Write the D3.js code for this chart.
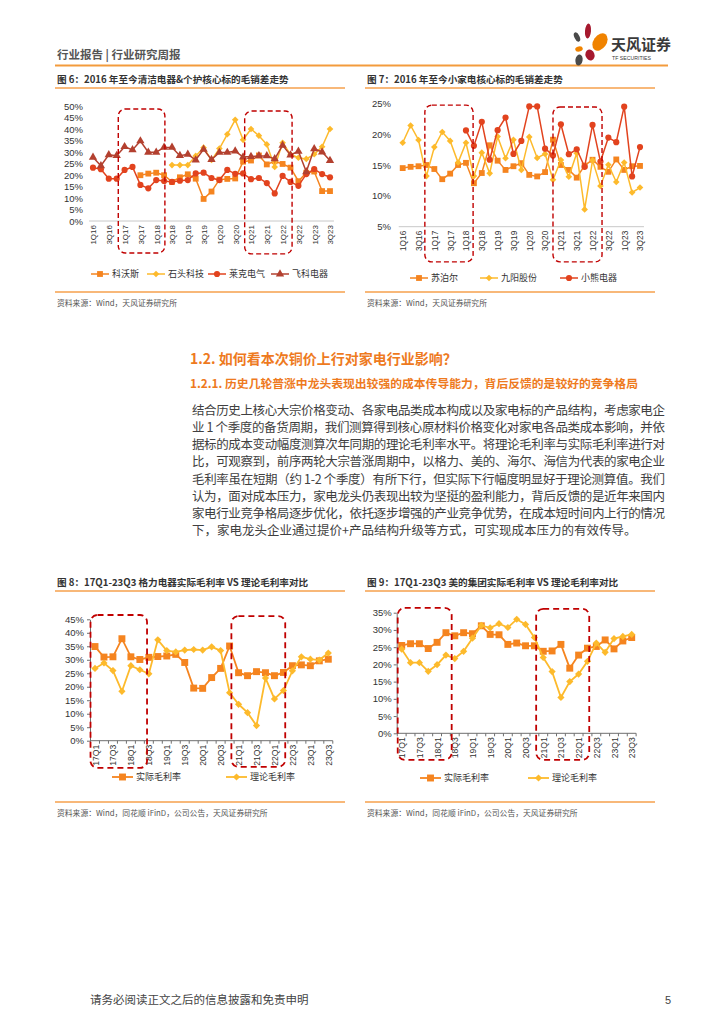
<!DOCTYPE html>
<html><head><meta charset="utf-8">
<script src="https://cdn.jsdelivr.net/npm/d3@7"></script>
<style>body{margin:0;background:#fff}svg{display:block}</style>
</head><body><svg id="c" width="724" height="1024"></svg>
<script>
// ---------- DATA ----------
const quarters = ["1Q16","2Q16","3Q16","4Q16","1Q17","2Q17","3Q17","4Q17","1Q18","2Q18","3Q18","4Q18","1Q19","2Q19","3Q19","4Q19","1Q20","2Q20","3Q20","4Q20","1Q21","2Q21","3Q21","4Q21","1Q22","2Q22","3Q22","4Q22","1Q23","2Q23","3Q23"];
const quarterLabels = ["1Q16","3Q16","1Q17","3Q17","1Q18","3Q18","1Q19","3Q19","1Q20","3Q20","1Q21","3Q21","1Q22","3Q22","1Q23","3Q23"];
// Fig 6
const kewosi = [null,null,null,null,null,null,19.9,20.6,21,19.9,17,19,20.3,18.4,9.6,12.8,18,18.3,18.5,25.8,26.3,28.5,24.6,26,24.8,23.2,17.3,21,21.5,13,13];
const shitou = [null,null,null,null,null,null,null,null,null,null,24.3,24.3,24.3,28.3,31.9,26.5,31.5,37.7,44,35.3,40,37.1,33.3,23.5,34,29,27.5,27,29,32.3,40];
const laike = [23.2,22.5,18.4,18.4,22.2,23.5,15.7,14.2,17.8,17.4,17,17.5,17.8,20.7,21,18.7,17.8,22.2,20.5,20.7,18.2,18.7,16.5,12,19.6,17,15.3,20.4,22.6,20.4,19];
const feike = [27.7,24,28.8,28.4,32.3,30.9,34.8,29.9,29.9,32,32,28.4,29,26.5,31.2,26.7,29.8,29.8,30.4,27.8,28,28.3,28.3,27,32.9,28.7,30.3,21.4,31.4,30,26.3];
// Fig 7
const supor = [14.5,14.7,14.8,15,14.35,12.7,13.6,15,15.35,12.05,13.7,18.2,15.7,14.2,14.8,15.3,13.4,13.15,13.85,19.1,15,14.2,12.95,14.9,15.85,14.7,13.9,15.9,14.2,14.8,14.85];
const joyoung = [18.6,21.4,19.05,13.2,17.9,20.35,18.9,15.4,18.6,13.2,17,13.65,19.6,16.1,19.1,14.2,19.55,16.15,16.8,12.6,15.8,13.1,16.9,7.8,15.75,11.6,15.05,12.25,15.4,10.55,11.35];
const bear = [null,null,null,null,null,null,null,null,20.6,18.1,22,15.85,20.65,22.7,16.8,18.9,24.5,24.5,17.65,16.55,21.6,16.75,17.55,14.7,21.5,15.55,19.45,18.7,24.45,13.15,17.9];
// Fig 8 / 9
const periods = ["17Q1","17Q2","17Q3","17Q4","18Q1","18Q2","18Q3","18Q4","19Q1","19Q2","19Q3","19Q4","20Q1","20Q2","20Q3","20Q4","21Q1","21Q2","21Q3","21Q4","22Q1","22Q2","22Q3","22Q4","23Q1","23Q2","23Q3"];
const periodLabels = ["17Q1","17Q3","18Q1","18Q3","19Q1","19Q3","20Q1","20Q3","21Q1","21Q3","22Q1","22Q3","23Q1","23Q3"];
const greeActual = [34.9,31,31.1,37.8,31.1,30.1,30.9,31.2,31.4,32,29,19.5,19.4,23.4,26.8,35.1,25.2,24.1,25.6,25.2,24.1,25.3,27.8,28.1,27.8,29.6,30.2];
const greeTheory = [26.8,28.8,26,18.3,27.8,26.3,24.8,37.4,33.4,32.9,33.6,33.8,33.6,34.8,33.4,17.8,13.5,10.4,5.6,23.2,15.5,18.6,25.9,31.1,30.2,29.9,32.5];
const mideaActual = [25.5,26,26,24.6,26.4,29.2,28.3,29.2,28.9,31.2,28.7,28.6,25.8,26.2,25.4,25.4,23.8,23.9,25.8,18.9,22.7,24.7,25.2,27.1,24.5,26.8,27.8];
const mideaTheory = [24.4,20.5,20.5,18,19.9,22.7,21.7,23.8,27.6,31.3,30.6,31.8,30.7,33.1,31.6,27.8,22,17.9,10.4,15,17.2,20.9,26.2,23.5,27.5,28.1,28.7];
const ticks6 = [0,5,10,15,20,25,30,35,40,45,50];
const ticks7 = [5,10,15,20,25];
const ticks8 = [0,5,10,15,20,25,30,35,40,45];
const ticks9 = [0,5,10,15,20,25,30,35];

// ---------- STYLE ----------
const C_ORANGE = "#F5841F", C_YELLOW = "#FDBA2C", C_RED = "#E2431E", C_DARKRED = "#B3402F";
const CJK = "'Noto Sans CJK SC','Noto Sans',sans-serif";
const LAT = "'Liberation Sans',Arial,sans-serif";
const svg = d3.select("#c");
svg.append("rect").attr("width",724).attr("height",1024).attr("fill","#fff");

// header
svg.append("text").attr("x",57).attr("y",59).attr("font-family",CJK).attr("font-size",11.5).attr("font-weight","bold").attr("fill","#555").text("行业报告 | 行业研究周报");
svg.append("line").attr("x1",55).attr("x2",668).attr("y1",65.5).attr("y2",65.5).attr("stroke","#F39B3C").attr("stroke-width",2);
const logo = svg.append("g");
[[577,37,2.6,5,-25,"#4a4a4a"],[588,31,3,7.5,5,"#A6192E"],[600,42,6.5,9.5,35,"#F08300"],[579,49,3.8,2.6,-10,"#F08300"],[590,55,4.5,5.5,-20,"#A6192E"],[579,60,3.6,5.5,10,"#4a4a4a"]].forEach(p=>{
  logo.append("ellipse").attr("cx",p[0]).attr("cy",p[1]).attr("rx",p[2]).attr("ry",p[3]).attr("fill",p[5]).attr("transform",`rotate(${p[4]},${p[0]},${p[1]})`);
});
svg.append("text").attr("x",611).attr("y",50).attr("font-family",CJK).attr("font-size",15).attr("font-weight","bold").attr("fill","#3a3a3a").text("天风证券");
svg.append("text").attr("x",612).attr("y",59.5).attr("font-family",LAT).attr("font-size",5.2).attr("fill","#3a3a3a").text("TF SECURITIES");

// footer
svg.append("text").attr("x",90).attr("y",1004).attr("font-family",CJK).attr("font-size",11.5).attr("fill","#444").text("请务必阅读正文之后的信息披露和免责申明");
svg.append("text").attr("x",665).attr("y",1004).attr("font-family",LAT).attr("font-size",11).attr("fill","#444").text("5");

// ---------- CHART ----------
function symbolPath(type, size){
  if (type === "diamond") return d3.symbol().type(d3.symbolSquare).size(size)();
  const t = {square:d3.symbolSquare, circle:d3.symbolCircle, triangle:d3.symbolTriangle}[type];
  return d3.symbol().type(t).size(size)();
}
function drawChart(o){
  const g = svg.append("g");
  const x = d3.scalePoint().domain(o.cats).range(o.xr);
  const step = x.step();
  const y = d3.scaleLinear().domain(o.yd).range(o.yr);
  const xi = i => x(o.cats[0]) + i*step;
  // title + rules + source
  g.append("text").attr("x",o.left+2).attr("y",o.titleY).attr("font-family",CJK).attr("font-size",9.6).attr("font-weight","bold").attr("fill","#333").text(o.title);
  g.append("line").attr("x1",o.left).attr("x2",o.right).attr("y1",o.titleY+5).attr("y2",o.titleY+5).attr("stroke","#F6A04D").attr("stroke-width",1.3);
  g.append("line").attr("x1",o.left).attr("x2",o.right).attr("y1",o.bottomY).attr("y2",o.bottomY).attr("stroke","#F6A04D").attr("stroke-width",1.3);
  g.append("text").attr("x",o.left+2).attr("y",o.bottomY+14).attr("font-family",CJK).attr("font-size",7.8).attr("fill","#555").text(o.source);
  // y axis
  const ya = g.append("g").attr("transform",`translate(${o.yAxisX},0)`)
    .call(d3.axisLeft(y).tickValues(o.yticks).tickFormat(d=>d+"%").tickSize(o.yTickSize).tickSizeOuter(0).tickPadding(o.yPad));
  ya.select(".domain").attr("stroke", o.axisDark ? "#6f6f6f" : "none");
  ya.selectAll(".tick line").attr("stroke","#6f6f6f");
  ya.selectAll("text").attr("font-family",LAT).attr("font-size",9.5).attr("fill","#333");
  // x baseline
  const y0 = y(o.yd[0]);
  g.append("line").attr("x1",o.axisDark ? o.yAxisX : xi(-0.5)).attr("x2",xi(o.cats.length-0.5)).attr("y1",y0).attr("y2",y0)
    .attr("stroke",o.axisDark ? "#6f6f6f" : "#c8c8c8").attr("stroke-width",1);
  if (o.axisDark){
    for (let i=0;i<=o.cats.length;i++) g.append("line").attr("x1",xi(i-0.5)).attr("x2",xi(i-0.5)).attr("y1",y0).attr("y2",y0+3).attr("stroke","#6f6f6f");
  }
  const xa = g.append("g").attr("transform",`translate(0,${y0})`).call(d3.axisBottom(x).tickValues(o.xlabels).tickSize(0));
  xa.select(".domain").remove();
  xa.selectAll("text").attr("transform","rotate(-90)").attr("text-anchor","end").attr("x",-4).attr("y",0).attr("dy","0.35em")
    .attr("font-family",LAT).attr("font-size",o.xFont).attr("fill","#333");
  // series
  o.series.forEach(s=>{
    const pts = s.values.map((v,i)=>({c:o.cats[i],v})).filter(d=>d.v!=null);
    g.append("path").datum(pts).attr("fill","none").attr("stroke",s.color).attr("stroke-width",o.lw)
      .attr("d",d3.line().x(d=>x(d.c)).y(d=>y(d.v)));
    g.selectAll(null).data(pts).enter().append("path")
      .attr("d",symbolPath(s.sym,s.size))
      .attr("transform",d=>`translate(${x(d.c)},${y(d.v)})`+(s.sym==="diamond"?" rotate(45)":""))
      .attr("fill",s.color);
  });
  // dashed boxes
  o.boxes.forEach(b=>{
    g.append("rect").attr("x",xi(b[0])).attr("y",y(b[2])).attr("width",xi(b[1])-xi(b[0])).attr("height",y(b[3])-y(b[2]))
      .attr("rx",7).attr("fill","none").attr("stroke","#C00000").attr("stroke-width",o.boxW).attr("stroke-dasharray",o.dash);
  });
  // legend
  o.series.forEach((s,k)=>{
    const lx = o.legendX[k], ly = o.legendY;
    g.append("line").attr("x1",lx).attr("x2",lx+o.legendLen).attr("y1",ly).attr("y2",ly).attr("stroke",s.color).attr("stroke-width",o.lw);
    g.append("path").attr("d",symbolPath(s.sym,s.size)).attr("fill",s.color)
      .attr("transform",`translate(${lx+o.legendLen/2},${ly})`+(s.sym==="diamond"?" rotate(45)":""));
    g.append("text").attr("x",lx+o.legendLen+3).attr("y",ly+3.3).attr("font-family",CJK).attr("font-size",9).attr("fill","#333").text(s.name);
  });
}

drawChart({
  title:"图 6：2016 年至今清洁电器&个护核心标的毛销差走势", left:55, right:345, titleY:83, bottomY:292,
  source:"资料来源：Wind，天风证券研究所",
  cats:quarters, xlabels:quarterLabels, xr:[93,330], yd:[0,50], yr:[221,106], yticks:ticks6,
  yAxisX:89, yTickSize:0, yPad:6, axisDark:false, xFont:8, lw:1.5,
  series:[
    {name:"科沃斯", values:kewosi, color:C_ORANGE, sym:"square", size:34},
    {name:"石头科技", values:shitou, color:C_YELLOW, sym:"diamond", size:22},
    {name:"莱克电气", values:laike, color:C_RED, sym:"circle", size:30},
    {name:"飞科电器", values:feike, color:C_DARKRED, sym:"triangle", size:30}
  ],
  boxes:[[3.2,9.1,48.7,-13.9],[19.2,25.2,47.8,-14.3]], boxW:1.4, dash:"5,3",
  legendX:[91,147,208,271], legendY:274, legendLen:18
});
drawChart({
  title:"图 7：2016 年至今小家电核心标的毛销差走势", left:365, right:655, titleY:83, bottomY:292,
  source:"资料来源：Wind，天风证券研究所",
  cats:quarters, xlabels:quarterLabels, xr:[402.7,640], yd:[5,25], yr:[226.7,103.3], yticks:ticks7,
  yAxisX:395, yTickSize:0, yPad:4, axisDark:false, xFont:8.3, lw:1.5,
  series:[
    {name:"苏泊尔", values:supor, color:C_ORANGE, sym:"square", size:34},
    {name:"九阳股份", values:joyoung, color:C_YELLOW, sym:"diamond", size:22},
    {name:"小熊电器", values:bear, color:C_RED, sym:"circle", size:30}
  ],
  boxes:[[2.8,8.9,24.7,-0.7],[19,25.2,24.4,-0.7]], boxW:1.4, dash:"5,3",
  legendX:[410,480,560], legendY:278, legendLen:18
});
drawChart({
  title:"图 8：17Q1-23Q3 格力电器实际毛利率 VS 理论毛利率对比", left:55, right:345, titleY:586, bottomY:802,
  source:"资料来源：Wind，同花顺 iFinD，公司公告，天风证券研究所",
  cats:periods, xlabels:periodLabels, xr:[95,328.3], yd:[0,45], yr:[740.7,619.3], yticks:ticks8,
  yAxisX:90, yTickSize:3, yPad:3, axisDark:true, xFont:8.6, lw:1.8,
  series:[
    {name:"实际毛利率", values:greeActual, color:C_ORANGE, sym:"square", size:48},
    {name:"理论毛利率", values:greeTheory, color:C_YELLOW, sym:"diamond", size:26}
  ],
  boxes:[[-0.5,5.8,46.6,-10.1],[15.2,21.2,46.2,-9.7]], boxW:1.8, dash:"6,4",
  legendX:[112,226], legendY:777, legendLen:21
});
drawChart({
  title:"图 9：17Q1-23Q3 美的集团实际毛利率 VS 理论毛利率对比", left:365, right:655, titleY:586, bottomY:802,
  source:"资料来源：Wind，同花顺 iFinD，公司公告，天风证券研究所",
  cats:periods, xlabels:periodLabels, xr:[401.7,631.7], yd:[0,35], yr:[733.3,612.7], yticks:ticks9,
  yAxisX:396.7, yTickSize:3, yPad:2, axisDark:true, xFont:8.6, lw:1.8,
  series:[
    {name:"实际毛利率", values:mideaActual, color:C_ORANGE, sym:"square", size:48},
    {name:"理论毛利率", values:mideaTheory, color:C_YELLOW, sym:"diamond", size:26}
  ],
  boxes:[[-0.45,5.65,36.4,-7.7],[15.2,21.2,36.1,-7.7]], boxW:1.8, dash:"6,4",
  legendX:[420,528], legendY:778, legendLen:21
});

// ---------- TEXT SECTION ----------
const ORANGE_H = "#EE7A1E";
svg.append("text").attr("x",190).attr("y",364).attr("font-family",CJK).attr("font-size",14).attr("font-weight","bold").attr("fill",ORANGE_H).text("1.2. 如何看本次铜价上行对家电行业影响？");
svg.append("text").attr("x",190).attr("y",388).attr("font-family",CJK).attr("font-size",11.8).attr("font-weight","bold").attr("fill",ORANGE_H).text("1.2.1. 历史几轮普涨中龙头表现出较强的成本传导能力，背后反馈的是较好的竞争格局");
const bodyLines = [
  "结合历史上核心大宗价格变动、各家电品类成本构成以及家电标的产品结构，考虑家电企",
  "业 1 个季度的备货周期，我们测算得到核心原材料价格变化对家电各品类成本影响，并依",
  "据标的成本变动幅度测算次年同期的理论毛利率水平。将理论毛利率与实际毛利率进行对",
  "比，可观察到，前序两轮大宗普涨周期中，以格力、美的、海尔、海信为代表的家电企业",
  "毛利率虽在短期（约 1-2 个季度）有所下行，但实际下行幅度明显好于理论测算值。我们",
  "认为，面对成本压力，家电龙头仍表现出较为坚挺的盈利能力，背后反馈的是近年来国内",
  "家电行业竞争格局逐步优化，依托逐步增强的产业竞争优势，在成本短时间内上行的情况",
  "下，家电龙头企业通过提价+产品结构升级等方式，可实现成本压力的有效传导。"
];
bodyLines.forEach((t,i)=>{
  const el = svg.append("text").attr("x",192).attr("y",415+i*17.15).attr("font-family",CJK).attr("font-size",12.5).attr("fill","#404040").text(t);
  if (i < bodyLines.length-1) el.attr("textLength",473).attr("lengthAdjust","spacing");
});
</script></body></html>
